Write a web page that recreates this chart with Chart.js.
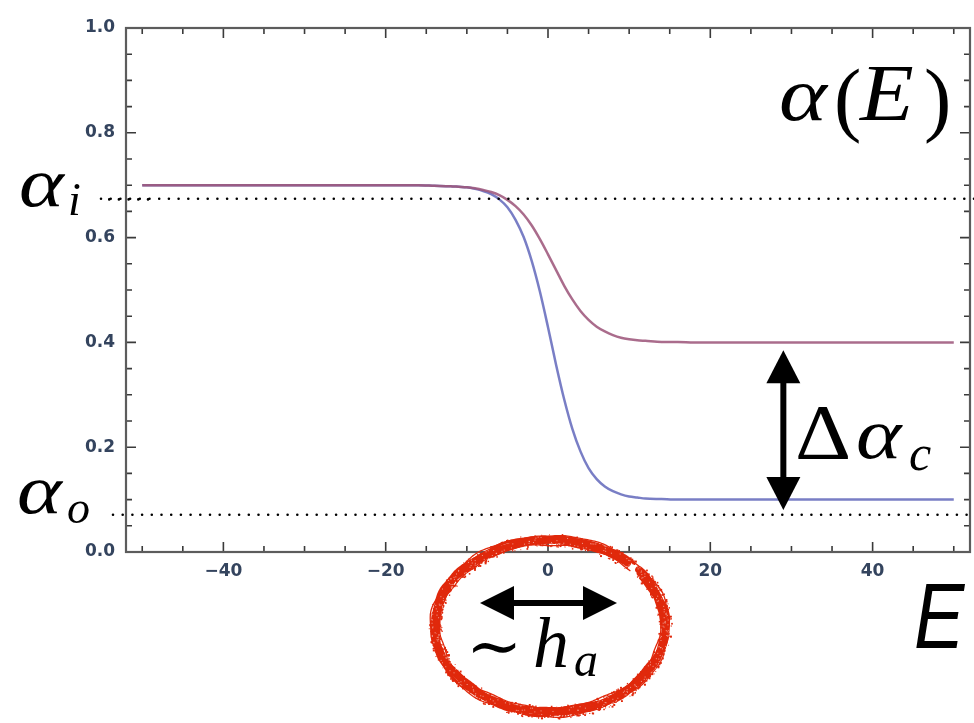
<!DOCTYPE html>
<html>
<head>
<meta charset="utf-8">
<script src="https://cdn.jsdelivr.net/npm/chart.js@4.4.1/dist/chart.umd.min.js"></script>
<style>
  html, body { margin: 0; padding: 0; background: #ffffff; }
  #wrap { width: 974px; height: 723px; position: relative; }
  canvas { display: block; }
</style>
</head>
<body>
<div id="wrap"><canvas id="c" width="974" height="723"></canvas></div>
<script>
// Energy grid E and the two α(E) curves
const energy = [-50, -20, -16, -14, -12, -11, -10, -9, -8, -7, -6, -5, -4, -3, -2, -1, 0, 1, 2, 3, 4, 5, 6, 7, 8, 9, 10, 11, 12, 14, 16, 18, 20, 50];
const alphaShallow = [0.700, 0.700, 0.700, 0.699, 0.698, 0.697, 0.696, 0.694, 0.691, 0.687, 0.681, 0.672, 0.660, 0.644, 0.623, 0.597, 0.568, 0.538, 0.508, 0.482, 0.460, 0.443, 0.430, 0.421, 0.414, 0.409, 0.406, 0.404, 0.403, 0.401, 0.401, 0.400, 0.400, 0.400];
const alphaSteep = [0.700, 0.700, 0.700, 0.699, 0.698, 0.697, 0.696, 0.693, 0.689, 0.683, 0.673, 0.658, 0.634, 0.601, 0.555, 0.497, 0.429, 0.357, 0.291, 0.235, 0.192, 0.160, 0.139, 0.125, 0.116, 0.110, 0.106, 0.104, 0.102, 0.101, 0.100, 0.100, 0.100, 0.100];

// Reference levels marked with dotted lines
const alphaInitial = 0.674;
const alphaOuter = 0.071;

// Tick labels
const xTickValues = [-40, -20, 0, 20, 40];
const yTickValues = [0.0, 0.2, 0.4, 0.6, 0.8, 1.0];

// Where the Δα_c arrow sits (E, from α, to α)
const deltaArrowE = 29;
const deltaArrowFrom = 0.385;
const deltaArrowTo = 0.08;

const tickColor = '#34445e';
const tickFont = { family: '"DejaVu Sans", "Liberation Sans", sans-serif', size: 17, weight: 'bold' };

function formatX(v) {
  return v < 0 ? '\u2212' + Math.abs(v) : String(v);
}

function hash(i) {
  const s = Math.sin(i * 12.9898 + 78.233) * 43758.5453;
  return s - Math.floor(s);
}

function doubleArrow(ctx, x1, y1, x2, y2, headLen, headHalf, shaftW) {
  const dx = x2 - x1, dy = y2 - y1;
  const len = Math.hypot(dx, dy);
  const ux = dx / len, uy = dy / len;
  const px = -uy, py = ux;
  ctx.save();
  ctx.fillStyle = '#000';
  ctx.strokeStyle = '#000';
  ctx.lineWidth = shaftW;
  ctx.beginPath();
  ctx.moveTo(x1 + ux * (headLen - 2), y1 + uy * (headLen - 2));
  ctx.lineTo(x2 - ux * (headLen - 2), y2 - uy * (headLen - 2));
  ctx.stroke();
  [[x1, y1, 1], [x2, y2, -1]].forEach(([tx, ty, s]) => {
    const bx = tx + ux * headLen * s, by = ty + uy * headLen * s;
    ctx.beginPath();
    ctx.moveTo(tx, ty);
    ctx.lineTo(bx + px * headHalf, by + py * headHalf);
    ctx.lineTo(bx - px * headHalf, by - py * headHalf);
    ctx.closePath();
    ctx.fill();
  });
  ctx.restore();
}

function dottedLine(ctx, x1, x2, y, gap, phase) {
  ctx.save();
  ctx.strokeStyle = '#000';
  ctx.lineWidth = 2.6;
  ctx.lineCap = 'round';
  ctx.setLineDash([0, gap]);
  ctx.lineDashOffset = phase || 0;
  ctx.beginPath();
  ctx.moveTo(x1, y);
  ctx.lineTo(x2, y);
  ctx.stroke();
  ctx.restore();
}

function roughEllipse(ctx, cx, cy, rx, ry) {
  ctx.save();
  ctx.strokeStyle = '#e0290c';
  ctx.fillStyle = '#e0290c';
  ctx.lineCap = 'round';
  const passes = [[0, 7.5], [-2.8, 3], [2.8, 3], [-4.2, 1.3], [4.3, 1.3]];
  passes.forEach(([off, w], p) => {
    ctx.lineWidth = w;
    ctx.beginPath();
    const a0 = -0.70 + p * 0.025;
    const a1 = a0 + Math.PI * 2 - 0.13;
    for (let k = 0; k <= 400; k++) {
      const a = a0 + (a1 - a0) * k / 400;
      const wob = off + 0.9 * Math.sin(a * 7 + p) + 0.6 * Math.sin(a * 17 + 2 * p);
      const x = cx + (rx + wob) * Math.cos(a);
      const y = cy + (ry + wob) * Math.sin(a);
      if (k === 0) ctx.moveTo(x, y); else ctx.lineTo(x, y);
    }
    ctx.stroke();
  });
  // grainy edge
  for (let i = 0; i < 1100; i++) {
    const a = hash(i) * Math.PI * 2;
    if (a > Math.PI * 2 - 0.78 && a < Math.PI * 2 - 0.66) continue;
    const d = (hash(i + 5000) - 0.5) * 13;
    const s = 0.8 + hash(i + 9000) * 1.3;
    ctx.fillRect(cx + (rx + d) * Math.cos(a), cy + (ry + d) * Math.sin(a), s, s);
  }
  // light flecks inside the stroke
  ctx.fillStyle = 'rgba(255,255,255,0.55)';
  for (let i = 0; i < 260; i++) {
    const a = hash(i + 20000) * Math.PI * 2;
    const d = (hash(i + 30000) - 0.5) * 8;
    ctx.fillRect(cx + (rx + d) * Math.cos(a), cy + (ry + d) * Math.sin(a), 1, 1);
  }
  ctx.restore();
}

// Frame with inward ticks on all four sides
const framePlugin = {
  id: 'frameTicks',
  afterDatasetsDraw(chart) {
    const { ctx, chartArea: a, scales: { x, y } } = chart;
    ctx.save();
    ctx.strokeStyle = '#3a3a3a';
    ctx.lineWidth = 1.6;
    for (let e = -50; e <= 50; e += 5) {
      const px = x.getPixelForValue(e);
      const major = e % 20 === 0;
      const L = major ? 10 : 6;
      ctx.beginPath();
      ctx.moveTo(px, a.bottom); ctx.lineTo(px, a.bottom - L);
      ctx.moveTo(px, a.top); ctx.lineTo(px, a.top + L);
      ctx.stroke();
    }
    for (let k = 1; k < 20; k++) {
      const v = k * 0.05;
      const py = y.getPixelForValue(v);
      const major = k % 4 === 0;
      const L = major ? 10 : 6;
      ctx.beginPath();
      ctx.moveTo(a.left, py); ctx.lineTo(a.left + L, py);
      ctx.moveTo(a.right, py); ctx.lineTo(a.right - L, py);
      ctx.stroke();
    }
    ctx.strokeStyle = '#5c5c5c';
    ctx.lineWidth = 2.2;
    ctx.strokeRect(a.left, a.top, a.right - a.left, a.bottom - a.top);
    ctx.restore();
  }
};

// draws one glyph, optionally stretched horizontally
function glyph(ctx, text, font, x, y, sx) {
  ctx.save();
  ctx.translate(x, y);
  ctx.scale(sx || 1, 1);
  ctx.font = font;
  ctx.fillText(text, 0, 0);
  ctx.restore();
}

// Reference levels, arrows and symbols
const notesPlugin = {
  id: 'notes',
  afterDraw(chart) {
    const { ctx, scales: { x, y } } = chart;
    const W = chart.width;
    const serifI = px => 'italic ' + px + 'px "Liberation Serif", "DejaVu Serif", serif';
    const serif = px => px + 'px "Liberation Serif", "DejaVu Serif", serif';

    const yi = y.getPixelForValue(alphaInitial);
    const yo = y.getPixelForValue(alphaOuter);
    dottedLine(ctx, 101, W, yi, 9.7, 0);
    dottedLine(ctx, 104, 150, yi + 0.6, 9.7, 4.5);
    dottedLine(ctx, 113, W, yo, 9.7, 0);

    ctx.save();
    ctx.fillStyle = '#000';
    ctx.textBaseline = 'alphabetic';
    ctx.textAlign = 'left';

    // α_i and α_o
    glyph(ctx, '\u03B1', serifI(70), 19, 206, 1.22);
    glyph(ctx, 'i', serifI(46), 68, 215);
    glyph(ctx, '\u03B1', serifI(70), 17, 513, 1.22);
    glyph(ctx, 'o', serifI(46), 67, 523);

    // α(E)
    glyph(ctx, '\u03B1', serifI(76), 779, 120, 1.2);
    glyph(ctx, '(', serif(82), 834, 126);
    glyph(ctx, 'E', serifI(80), 860, 120, 1.1);
    glyph(ctx, ')', serif(82), 924, 126);

    // Δα_c
    glyph(ctx, '\u0394', serif(78), 795, 458, 1.12);
    glyph(ctx, '\u03B1', serifI(72), 856, 458, 1.2);
    glyph(ctx, 'c', serifI(50), 909, 470);

    // ∼ h_a
    glyph(ctx, '\u223C', serif(64), 466, 668, 1.05);
    glyph(ctx, 'h', serifI(72), 533, 667);
    glyph(ctx, 'a', serifI(48), 574, 676);

    // E axis symbol
    glyph(ctx, 'E', 'italic 92px "Liberation Sans", "DejaVu Sans", sans-serif', 914, 648, 0.82);
    ctx.restore();

    // Δα_c arrow
    const ax = x.getPixelForValue(deltaArrowE);
    doubleArrow(ctx, ax, y.getPixelForValue(deltaArrowFrom), ax, y.getPixelForValue(deltaArrowTo), 33, 17, 6);

    // width marker
    roughEllipse(ctx, 550, 626, 115, 86);
    doubleArrow(ctx, 480, 603, 617, 603, 34, 17, 6);
  }
};

const pts = vals => energy.map((e, i) => ({ x: e, y: vals[i] }));

new Chart(document.getElementById('c'), {
  type: 'line',
  data: {
    datasets: [
      {
        label: 'shallow',
        data: pts(alphaShallow),
        borderColor: 'rgba(158, 88, 124, 0.88)',
        borderWidth: 2.5,
        pointRadius: 0,
        cubicInterpolationMode: 'monotone',
        fill: false
      },
      {
        label: 'steep',
        data: pts(alphaSteep),
        borderColor: 'rgba(92, 98, 184, 0.82)',
        borderWidth: 2.5,
        pointRadius: 0,
        cubicInterpolationMode: 'monotone',
        fill: false
      }
    ]
  },
  options: {
    responsive: false,
    animation: false,
    devicePixelRatio: 1,
    layout: { padding: { top: 28, right: 4, left: 0, bottom: 0 } },
    plugins: { legend: { display: false }, tooltip: { enabled: false } },
    scales: {
      x: {
        type: 'linear',
        min: -52,
        max: 52,
        grid: { display: false, drawTicks: false },
        border: { display: false },
        afterBuildTicks: s => { s.ticks = xTickValues.map(v => ({ value: v })); },
        afterFit: s => { s.height = 171; },
        ticks: {
          autoSkip: false,
          maxRotation: 0,
          padding: 9,
          color: tickColor,
          font: tickFont,
          callback: v => formatX(v)
        }
      },
      y: {
        type: 'linear',
        min: 0,
        max: 1,
        grid: { display: false, drawTicks: false },
        border: { display: false },
        afterBuildTicks: s => { s.ticks = yTickValues.map(v => ({ value: v })); },
        afterFit: s => { s.width = 126; },
        ticks: {
          padding: 11,
          color: tickColor,
          font: tickFont,
          callback: v => v.toFixed(1)
        }
      }
    }
  },
  plugins: [framePlugin, notesPlugin]
});
</script>
</body>
</html>
